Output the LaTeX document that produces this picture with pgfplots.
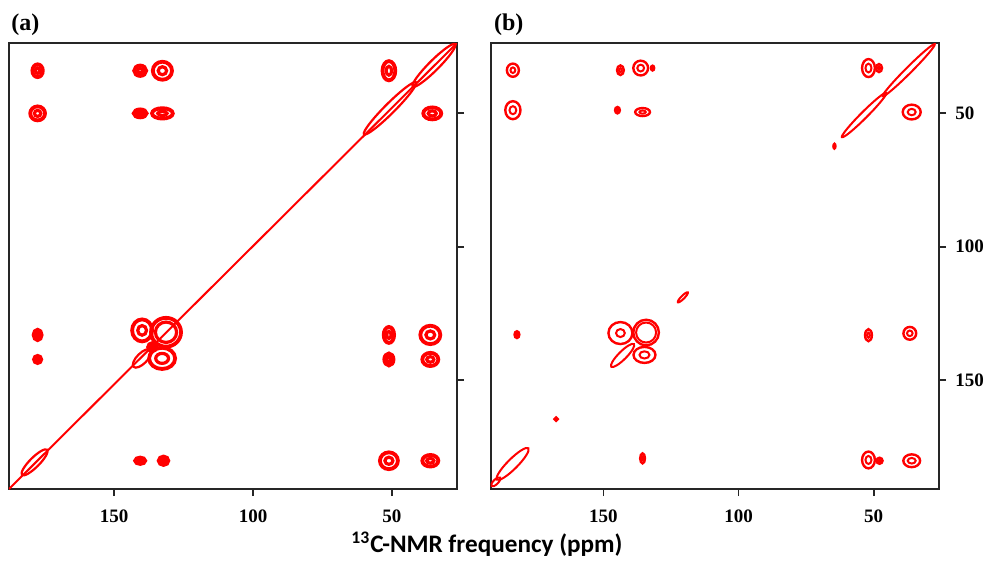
\documentclass[border=0pt]{standalone}
\usepackage{fontspec}
\setmainfont{Liberation Serif}
\newfontfamily\carlito{Carlito}
\usepackage{pgfplots}
\usepackage{pgfplotstable}
\pgfplotsset{compat=1.18}

% peaks: x y (ppm), rx ry = outer contour radii (pt), irx iry = inner contour radii (pt)
\pgfplotstableread{
x y rx ry irx iry
177.5 34 2.6 3.2 1.1 1.4
140.6 34 3.0 2.6 1.3 1.1
132.6 34 4.8 4.5 2.1 2.0
51.1 34 3.2 4.8 1.4 2.2
177.5 50 3.7 3.5 1.6 1.5
140.6 50 3.2 2.0 1.4 0.8
132.6 50 5.2 2.6 2.3 1.1
35.5 50 4.5 3.0 2.0 1.3
177.5 133.1 2.0 2.6 0.8 1.1
177.5 142.3 1.8 1.8 0.7 0.7
139.9 131.4 5.0 5.5 2.2 2.4
131.3 132.1 7.5 7.2 5.3 5.1
132.7 141.9 6.5 5.3 3.2 2.5
136.3 137.7 2.0 2.0 0.8 0.8
51.1 133.1 2.6 4.0 1.1 1.8
36.2 133.1 5.0 4.6 2.2 2.0
51.1 142.3 2.3 3.0 1.0 1.3
36.2 142.3 4.0 3.3 1.8 1.4
140.6 180.3 2.5 1.6 1.0 0.6
132.2 180.3 2.4 2.1 1.0 0.8
51.1 180.3 4.5 4.2 2.0 1.8
36.2 180.3 4.0 2.9 1.8 1.2
}\peaksA

% diagonal lobes: x y, rx = half length (pt), ry = half width (pt)
\pgfplotstableread{
x y rx ry
50.7 48.1 18.4 2.5
34.9 32.0 15.0 2.5
178.6 180.9 8.9 2.4
139.9 141.9 6.0 2.6
}\lobesA

\pgfplotstableread{
x y rx ry irx iry
183.5 33.8 3.0 3.3 1.2 1.4
183.5 48.8 3.8 4.5 1.7 2.0
143.7 33.8 1.7 2.4 0.7 1.0
136.2 33.0 3.7 3.7 1.7 1.7
131.8 33.0 0.8 1.2 0.3 0.5
144.8 48.8 1.2 1.6 0.5 0.6
135.5 49.5 3.7 2.0 1.6 0.8
51.9 33.0 3.2 4.5 1.5 2.2
48.0 33.0 1.5 2.0 0.6 0.8
35.9 49.5 4.5 3.7 2.0 1.6
182.0 133.0 1.2 1.7 0.5 0.7
143.7 132.4 6.0 5.5 2.2 2.0
134.2 132.2 6.4 6.4 5.0 5.0
134.8 140.6 5.5 4.0 2.5 1.8
135.5 179.4 1.2 2.5 0.5 1.0
51.9 180.0 3.2 4.2 1.5 2.0
47.8 180.3 1.5 1.5 0.6 0.6
35.9 180.3 4.2 3.2 2.0 1.4
51.9 133.2 1.7 3.0 0.7 1.3
36.6 132.5 3.2 3.2 1.4 1.4
167.5 164.7 0.8 0.8 0.3 0.3
64.5 62.3 0.5 1.2 0.2 0.5
}\peaksB

\pgfplotstableread{
x y rx ry
53.5 50.6 15.7 1.6
37.0 33.8 18.4 1.5
142.9 140.8 8.0 2.0
183.6 181.5 11.1 2.5
189.8 188.2 3.0 1.2
120.6 119.0 3.5 0.8
}\lobesB

\pgfplotsset{
  ring/.style={scatter, only marks, mark=o, mark size=1pt, red,
    mark options={solid, line width=#1},
    visualization depends on={\thisrow{rx}\as\rx},
    visualization depends on={\thisrow{ry}\as\ry},
    scatter/@pre marker code/.code={\scope[xscale=\rx,yscale=\ry]},
    scatter/@post marker code/.code={\endscope}},
  iring/.style={scatter, only marks, mark=o, mark size=1pt, red,
    mark options={solid, line width=#1},
    visualization depends on={\thisrow{irx}\as\rx},
    visualization depends on={\thisrow{iry}\as\ry},
    scatter/@pre marker code/.code={\scope[xscale=\rx,yscale=\ry]},
    scatter/@post marker code/.code={\endscope}},
  lobe/.style={scatter, only marks, mark=o, mark size=1pt, red,
    mark options={solid, line width=#1},
    visualization depends on={\thisrow{rx}\as\rx},
    visualization depends on={\thisrow{ry}\as\ry},
    scatter/@pre marker code/.code={\scope[rotate=45,xscale=\rx,yscale=\ry]},
    scatter/@post marker code/.code={\endscope}},
  nmr/.style={scale only axis, width=224pt, height=223pt,
    x dir=reverse, y dir=reverse, ymin=23.6, ymax=190.9,
    axis line style={line width=0.9pt, black!85},
    xtick={50,100,150}, ytick={50,100,150},
    tick align=outside, major tick length=3.5pt,
    tick style={line width=0.9pt, black!85},
    xtick pos=left, ytick pos=right,
    xticklabel pos=left, yticklabel pos=right,
    tick label style={font=\fontsize{9.5}{11}\selectfont\bfseries},
    /pgf/number format/assume math mode=true,
    xticklabel style={yshift=-3.5pt},
    yticklabel style={xshift=1.2pt},
    clip=true},
}

\begin{document}
\begin{tikzpicture}
\path[use as bounding box] (0,0) rectangle (492.5pt,-281pt);

\begin{axis}[nmr, at={(4.5pt,-244.5pt)}, anchor=south west,
  xmin=26.6, xmax=187.8, yticklabels={}]
  \addplot[red, line width=1pt] coordinates {(187.8,190.9) (26.6,23.6)};
  \addplot[ring=1.9pt] table {\peaksA};
  \addplot[iring=1.6pt] table {\peaksA};
  \addplot[lobe=1.1pt] table {\lobesA};
\end{axis}

\begin{axis}[nmr, at={(245.5pt,-244.5pt)}, anchor=south west,
  xmin=25.8, xmax=191.6]
  \addplot[ring=1.2pt] table {\peaksB};
  \addplot[iring=1.0pt] table {\peaksB};
  \addplot[lobe=1.0pt] table {\lobesB};
\end{axis}

\node[anchor=base west, font=\fontsize{12}{13}\selectfont\bfseries] at (2.2pt,-15.2pt) {(a)};
\node[anchor=base west, font=\fontsize{12}{13}\selectfont\bfseries] at (243.5pt,-15.2pt) {(b)};
\node[anchor=base, font=\carlito\bfseries\fontsize{12.6}{14}\selectfont] at (243.5pt,-276.3pt)
  {\textsuperscript{13}C-NMR frequency (ppm)};
\end{tikzpicture}
\end{document}
